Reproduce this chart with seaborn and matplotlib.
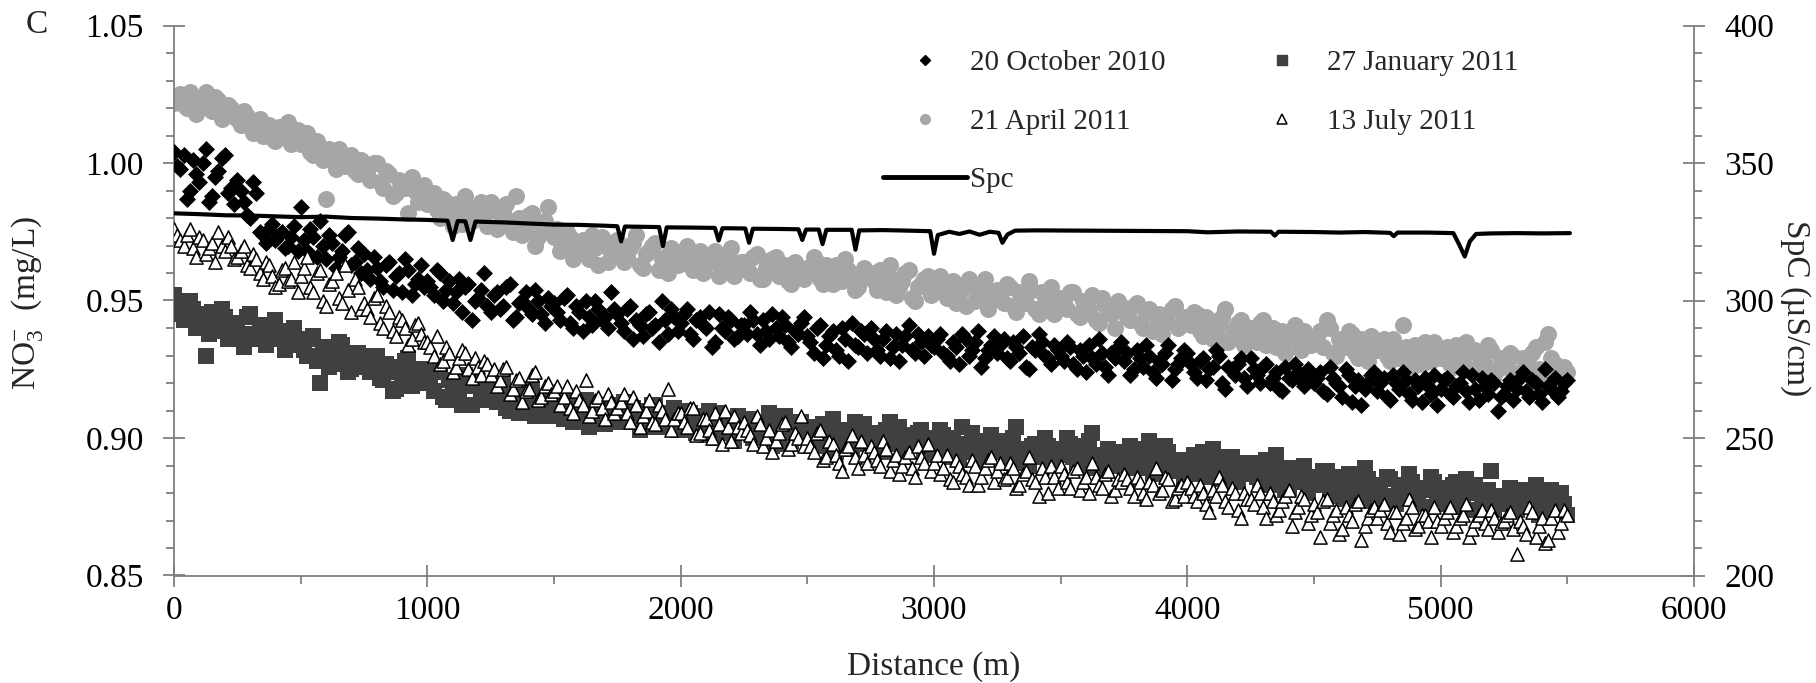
import numpy as np
import pandas as pd
import matplotlib
matplotlib.use('Agg')
import matplotlib.pyplot as plt
from matplotlib.lines import Line2D
from matplotlib.ticker import MultipleLocator, FormatStrFormatter
import seaborn as sns

# distance along the transect (m): readings every 25 m, plus the in-between ones
distance_m = list(range(0, 5501, 25))
distance_mid = [d + 12.5 for d in distance_m[:-1]]

# NO3- (mg/L) per survey
oct_2010 = [1.004, 0.998, 0.987, 1.001, 0.993, 1.005, 0.988, 0.997, 1.003, 0.991,
            0.994, 0.986, 0.980, 0.989, 0.974, 0.976, 0.972, 0.975, 0.970, 0.977,
            0.984, 0.968, 0.973, 0.979, 0.965, 0.971, 0.966, 0.974, 0.963, 0.969,
            0.967, 0.958, 0.962, 0.955, 0.964, 0.959, 0.953, 0.961, 0.956, 0.963,
            0.957, 0.952, 0.960, 0.954, 0.949, 0.958, 0.955, 0.943, 0.951, 0.960,
            0.946, 0.953, 0.948, 0.956, 0.944, 0.950, 0.947, 0.954, 0.945, 0.951,
            0.949, 0.943, 0.952, 0.940, 0.946, 0.950, 0.941, 0.947, 0.944, 0.953,
            0.945, 0.939, 0.948, 0.943, 0.937, 0.946, 0.941, 0.950, 0.938, 0.944,
            0.942, 0.947, 0.936, 0.944, 0.940, 0.933, 0.945, 0.939, 0.943, 0.937,
            0.941, 0.946, 0.938, 0.943, 0.936, 0.940, 0.944, 0.935, 0.939, 0.942,
            0.937, 0.931, 0.941, 0.934, 0.939, 0.930, 0.936, 0.942, 0.933, 0.938,
            0.940, 0.932, 0.936, 0.929, 0.938, 0.934, 0.941, 0.931, 0.935, 0.937,
            0.933, 0.938, 0.930, 0.935, 0.927, 0.936, 0.932, 0.939, 0.929, 0.934,
            0.931, 0.936, 0.928, 0.933, 0.937, 0.925, 0.932, 0.935, 0.929, 0.934,
            0.930, 0.935, 0.927, 0.932, 0.924, 0.929, 0.936, 0.926, 0.931, 0.933,
            0.928, 0.923, 0.932, 0.926, 0.930, 0.922, 0.927, 0.934, 0.925, 0.929,
            0.931, 0.924, 0.928, 0.921, 0.926, 0.930, 0.918, 0.925, 0.927, 0.922,
            0.929, 0.923, 0.926, 0.920, 0.924, 0.917, 0.922, 0.927, 0.921, 0.925,
            0.920, 0.924, 0.916, 0.922, 0.919, 0.925, 0.913, 0.921, 0.918, 0.923,
            0.917, 0.922, 0.914, 0.920, 0.924, 0.916, 0.921, 0.913, 0.919, 0.923,
            0.918, 0.922, 0.915, 0.920, 0.917, 0.923, 0.914, 0.919, 0.921, 0.910,
            0.916, 0.921, 0.918, 0.924, 0.915, 0.920, 0.913, 0.919, 0.922, 0.917,
            0.921]
oct_2010_mid = [0.999, 1.003, 0.990, 0.996, 1.000, 0.986, 0.995, 1.002, 0.989, 0.985,
                0.990, 0.981, 0.993, 0.975, 0.971, 0.978, 0.974, 0.969, 0.973, 0.968,
                0.972, 0.976, 0.966, 0.970, 0.974, 0.962, 0.968, 0.975, 0.964, 0.960,
                0.961, 0.966, 0.957, 0.963, 0.954, 0.960, 0.965, 0.952, 0.958, 0.955,
                0.955, 0.961, 0.950, 0.957, 0.953, 0.946, 0.956, 0.950, 0.954, 0.948,
                0.952, 0.947, 0.955, 0.943, 0.949, 0.953, 0.945, 0.950, 0.942, 0.948,
                0.946, 0.951, 0.942, 0.948, 0.939, 0.944, 0.950, 0.943, 0.940, 0.947,
                0.942, 0.947, 0.936, 0.941, 0.945, 0.940, 0.935, 0.943, 0.947, 0.939,
                0.945, 0.938, 0.943, 0.941, 0.946, 0.935, 0.940, 0.944, 0.936, 0.941,
                0.938, 0.943, 0.934, 0.939, 0.945, 0.937, 0.941, 0.933, 0.938, 0.944,
                0.935, 0.940, 0.929, 0.937, 0.932, 0.940, 0.928, 0.934, 0.939, 0.931,
                0.936, 0.930, 0.939, 0.933, 0.928, 0.937, 0.932, 0.938, 0.930, 0.934,
                0.936, 0.931, 0.928, 0.933, 0.938, 0.930, 0.935, 0.926, 0.932, 0.937,
                0.934, 0.929, 0.935, 0.931, 0.926, 0.933, 0.938, 0.930, 0.927, 0.932,
                0.928, 0.933, 0.925, 0.930, 0.934, 0.927, 0.931, 0.923, 0.929, 0.935,
                0.931, 0.925, 0.929, 0.934, 0.924, 0.928, 0.931, 0.921, 0.927, 0.932,
                0.927, 0.922, 0.929, 0.925, 0.932, 0.920, 0.926, 0.923, 0.929, 0.919,
                0.925, 0.920, 0.927, 0.922, 0.918, 0.926, 0.921, 0.924, 0.919, 0.923,
                0.922, 0.917, 0.926, 0.920, 0.915, 0.923, 0.919, 0.912, 0.920, 0.924,
                0.920, 0.915, 0.923, 0.918, 0.921, 0.914, 0.919, 0.922, 0.916, 0.912,
                0.921, 0.916, 0.919, 0.924, 0.913, 0.918, 0.922, 0.916, 0.920, 0.915,
                0.919, 0.914, 0.922, 0.917, 0.921, 0.916, 0.925, 0.918, 0.915, 0.920]

jan_2011 = [0.952, 0.945, 0.943, 0.947, 0.941, 0.930, 0.946, 0.939, 0.944, 0.937,
            0.942, 0.933, 0.945, 0.938, 0.941, 0.936, 0.943, 0.939, 0.935, 0.940,
            0.934, 0.930, 0.937, 0.920, 0.932, 0.927, 0.935, 0.929, 0.925, 0.931,
            0.928, 0.924, 0.930, 0.921, 0.926, 0.918, 0.923, 0.929, 0.920, 0.925,
            0.922, 0.917, 0.925, 0.914, 0.920, 0.916, 0.923, 0.912, 0.919, 0.915,
            0.918, 0.913, 0.920, 0.910, 0.916, 0.912, 0.917, 0.908, 0.914, 0.911,
            0.915, 0.909, 0.913, 0.906, 0.911, 0.914, 0.907, 0.912, 0.905, 0.910,
            0.908, 0.913, 0.906, 0.910, 0.904, 0.909, 0.912, 0.905, 0.908, 0.911,
            0.907, 0.910, 0.903, 0.908, 0.901, 0.906, 0.909, 0.902, 0.905, 0.908,
            0.903, 0.907, 0.900, 0.905, 0.909, 0.901, 0.904, 0.898, 0.903, 0.906,
            0.900, 0.904, 0.897, 0.902, 0.907, 0.899, 0.903, 0.896, 0.901, 0.905,
            0.898, 0.902, 0.895, 0.906, 0.899, 0.893, 0.901, 0.897, 0.903, 0.894,
            0.899, 0.903, 0.895, 0.900, 0.892, 0.897, 0.902, 0.894, 0.898, 0.901,
            0.895, 0.899, 0.892, 0.904, 0.896, 0.890, 0.898, 0.893, 0.897, 0.891,
            0.896, 0.900, 0.893, 0.897, 0.890, 0.902, 0.894, 0.888, 0.895, 0.891,
            0.893, 0.897, 0.889, 0.894, 0.899, 0.887, 0.892, 0.895, 0.888, 0.891,
            0.890, 0.894, 0.887, 0.892, 0.896, 0.885, 0.889, 0.893, 0.884, 0.888,
            0.891, 0.886, 0.890, 0.883, 0.894, 0.887, 0.882, 0.889, 0.885, 0.880,
            0.886, 0.883, 0.888, 0.880, 0.885, 0.878, 0.884, 0.881, 0.889, 0.877,
            0.883, 0.879, 0.885, 0.876, 0.882, 0.887, 0.878, 0.881, 0.875, 0.884,
            0.880, 0.876, 0.883, 0.878, 0.885, 0.874, 0.881, 0.877, 0.888, 0.879,
            0.876, 0.882, 0.874, 0.879, 0.877, 0.883, 0.873, 0.878, 0.875, 0.880,
            0.872]
jan_2011_mid = [0.948, 0.943, 0.950, 0.940, 0.945, 0.938, 0.942, 0.947, 0.936, 0.941,
                0.938, 0.944, 0.936, 0.940, 0.934, 0.939, 0.937, 0.932, 0.938, 0.935,
                0.932, 0.936, 0.928, 0.933, 0.926, 0.930, 0.934, 0.924, 0.929, 0.927,
                0.926, 0.930, 0.922, 0.927, 0.917, 0.924, 0.928, 0.919, 0.923, 0.921,
                0.920, 0.924, 0.915, 0.921, 0.918, 0.912, 0.919, 0.922, 0.914, 0.917,
                0.915, 0.919, 0.911, 0.916, 0.909, 0.914, 0.918, 0.910, 0.913, 0.908,
                0.912, 0.907, 0.914, 0.909, 0.913, 0.904, 0.910, 0.908, 0.912, 0.906,
                0.910, 0.906, 0.911, 0.903, 0.908, 0.912, 0.904, 0.909, 0.907, 0.903,
                0.905, 0.909, 0.902, 0.906, 0.910, 0.900, 0.904, 0.907, 0.899, 0.904,
                0.905, 0.900, 0.906, 0.902, 0.897, 0.904, 0.908, 0.899, 0.902, 0.900,
                0.902, 0.898, 0.905, 0.900, 0.895, 0.903, 0.899, 0.906, 0.898, 0.902,
                0.900, 0.896, 0.903, 0.898, 0.904, 0.896, 0.899, 0.902, 0.895, 0.900,
                0.897, 0.901, 0.893, 0.898, 0.904, 0.895, 0.899, 0.891, 0.896, 0.899,
                0.897, 0.893, 0.900, 0.895, 0.891, 0.897, 0.894, 0.900, 0.892, 0.895,
                0.894, 0.898, 0.891, 0.895, 0.899, 0.889, 0.893, 0.896, 0.890, 0.894,
                0.895, 0.890, 0.896, 0.891, 0.887, 0.893, 0.897, 0.889, 0.892, 0.886,
                0.892, 0.888, 0.895, 0.886, 0.890, 0.893, 0.884, 0.891, 0.887, 0.890,
                0.888, 0.884, 0.892, 0.886, 0.889, 0.881, 0.887, 0.884, 0.890, 0.883,
                0.884, 0.888, 0.879, 0.886, 0.882, 0.887, 0.878, 0.883, 0.885, 0.880,
                0.881, 0.886, 0.877, 0.883, 0.879, 0.884, 0.876, 0.882, 0.886, 0.878,
                0.882, 0.878, 0.884, 0.875, 0.880, 0.883, 0.877, 0.881, 0.874, 0.879,
                0.878, 0.874, 0.881, 0.876, 0.880, 0.872, 0.877, 0.881, 0.874, 0.876]

apr_2011 = [1.022, 1.025, 1.020, 1.024, 1.021, 1.026, 1.019, 1.023, 1.017, 1.020,
            1.016, 1.019, 1.013, 1.015, 1.010, 1.014, 1.008, 1.012, 1.015, 1.009,
            1.007, 1.011, 1.003, 1.006, 0.987, 1.002, 1.005, 0.999, 1.003, 0.996,
            0.998, 0.994, 1.000, 0.991, 0.996, 0.989, 0.993, 0.982, 0.990, 0.987,
            0.985, 0.989, 0.980, 0.986, 0.977, 0.983, 0.988, 0.979, 0.984, 0.981,
            0.986, 0.976, 0.983, 0.979, 0.988, 0.974, 0.981, 0.970, 0.978, 0.984,
            0.973, 0.968, 0.975, 0.965, 0.971, 0.967, 0.974, 0.963, 0.970, 0.966,
            0.972, 0.964, 0.969, 0.974, 0.962, 0.968, 0.971, 0.965, 0.960, 0.967,
            0.966, 0.970, 0.961, 0.968, 0.963, 0.967, 0.959, 0.965, 0.969, 0.962,
            0.964, 0.960, 0.967, 0.958, 0.963, 0.966, 0.961, 0.957, 0.964, 0.960,
            0.962, 0.966, 0.958, 0.963, 0.956, 0.961, 0.965, 0.959, 0.955, 0.962,
            0.960, 0.954, 0.958, 0.963, 0.952, 0.957, 0.961, 0.950, 0.956, 0.959,
            0.955, 0.959, 0.951, 0.957, 0.953, 0.948, 0.956, 0.952, 0.958, 0.950,
            0.954, 0.949, 0.955, 0.946, 0.952, 0.957, 0.947, 0.953, 0.950, 0.945,
            0.951, 0.947, 0.953, 0.944, 0.949, 0.952, 0.942, 0.948, 0.945, 0.950,
            0.946, 0.943, 0.949, 0.940, 0.947, 0.944, 0.938, 0.945, 0.948, 0.941,
            0.943, 0.946, 0.939, 0.944, 0.936, 0.941, 0.947, 0.937, 0.942, 0.934,
            0.940, 0.935, 0.943, 0.938, 0.933, 0.939, 0.936, 0.941, 0.932, 0.937,
            0.935, 0.939, 0.943, 0.931, 0.936, 0.933, 0.938, 0.929, 0.934, 0.937,
            0.932, 0.936, 0.928, 0.933, 0.941, 0.930, 0.934, 0.927, 0.932, 0.935,
            0.929, 0.933, 0.926, 0.931, 0.935, 0.924, 0.930, 0.927, 0.932, 0.925,
            0.928, 0.931, 0.923, 0.929, 0.926, 0.933, 0.922, 0.938, 0.927, 0.921,
            0.924]
apr_2011_mid = [1.024, 1.021, 1.026, 1.018, 1.023, 1.020, 1.024, 1.016, 1.021, 1.018,
                1.014, 1.017, 1.011, 1.016, 1.012, 1.009, 1.013, 1.010, 1.007, 1.012,
                1.009, 1.004, 1.008, 1.001, 1.005, 0.998, 1.003, 1.000, 0.997, 1.001,
                0.996, 1.000, 0.993, 0.997, 0.988, 0.994, 0.991, 0.995, 0.986, 0.992,
                0.988, 0.983, 0.987, 0.981, 0.985, 0.978, 0.984, 0.980, 0.986, 0.977,
                0.983, 0.978, 0.985, 0.975, 0.980, 0.977, 0.982, 0.973, 0.979, 0.976,
                0.976, 0.970, 0.973, 0.968, 0.972, 0.965, 0.969, 0.973, 0.964, 0.968,
                0.969, 0.966, 0.971, 0.963, 0.967, 0.970, 0.961, 0.966, 0.969, 0.963,
                0.968, 0.963, 0.966, 0.960, 0.965, 0.968, 0.962, 0.966, 0.959, 0.964,
                0.962, 0.966, 0.958, 0.962, 0.965, 0.959, 0.963, 0.956, 0.961, 0.958,
                0.960, 0.964, 0.956, 0.960, 0.963, 0.957, 0.961, 0.954, 0.958, 0.960,
                0.957, 0.961, 0.953, 0.958, 0.955, 0.960, 0.951, 0.955, 0.958, 0.952,
                0.957, 0.953, 0.956, 0.949, 0.954, 0.958, 0.950, 0.955, 0.947, 0.953,
                0.951, 0.956, 0.948, 0.953, 0.949, 0.954, 0.945, 0.951, 0.955, 0.948,
                0.949, 0.953, 0.945, 0.950, 0.947, 0.943, 0.951, 0.946, 0.940, 0.948,
                0.944, 0.948, 0.942, 0.946, 0.939, 0.945, 0.942, 0.947, 0.940, 0.944,
                0.941, 0.945, 0.937, 0.943, 0.939, 0.944, 0.935, 0.940, 0.943, 0.938,
                0.938, 0.942, 0.934, 0.940, 0.936, 0.931, 0.938, 0.935, 0.939, 0.934,
                0.937, 0.933, 0.940, 0.930, 0.935, 0.939, 0.931, 0.936, 0.928, 0.933,
                0.934, 0.930, 0.936, 0.929, 0.933, 0.926, 0.931, 0.935, 0.928, 0.930,
                0.931, 0.927, 0.934, 0.929, 0.925, 0.932, 0.928, 0.934, 0.923, 0.929,
                0.926, 0.930, 0.924, 0.928, 0.931, 0.925, 0.935, 0.929, 0.923, 0.926]

jul_2011 = [0.976, 0.972, 0.974, 0.969, 0.973, 0.967, 0.971, 0.975, 0.968, 0.970,
            0.966, 0.970, 0.962, 0.965, 0.958, 0.963, 0.955, 0.961, 0.957, 0.964,
            0.959, 0.966, 0.953, 0.961, 0.948, 0.957, 0.951, 0.963, 0.946, 0.955,
            0.949, 0.944, 0.952, 0.940, 0.946, 0.937, 0.943, 0.934, 0.941, 0.938,
            0.935, 0.930, 0.927, 0.933, 0.924, 0.929, 0.931, 0.922, 0.926, 0.928,
            0.923, 0.919, 0.925, 0.916, 0.921, 0.913, 0.918, 0.924, 0.915, 0.920,
            0.917, 0.912, 0.919, 0.909, 0.914, 0.921, 0.910, 0.915, 0.907, 0.913,
            0.911, 0.916, 0.906, 0.912, 0.908, 0.914, 0.905, 0.910, 0.918, 0.907,
            0.909, 0.904, 0.911, 0.902, 0.907, 0.900, 0.905, 0.910, 0.899, 0.904,
            0.906, 0.901, 0.908, 0.897, 0.903, 0.899, 0.905, 0.896, 0.902, 0.908,
            0.900, 0.895, 0.903, 0.893, 0.898, 0.891, 0.896, 0.901, 0.889, 0.894,
            0.897, 0.892, 0.899, 0.888, 0.894, 0.890, 0.895, 0.886, 0.893, 0.898,
            0.891, 0.887, 0.894, 0.884, 0.890, 0.886, 0.892, 0.883, 0.889, 0.893,
            0.888, 0.885, 0.891, 0.882, 0.887, 0.893, 0.884, 0.889, 0.880, 0.886,
            0.890, 0.884, 0.888, 0.881, 0.886, 0.891, 0.883, 0.887, 0.879, 0.885,
            0.887, 0.882, 0.886, 0.880, 0.884, 0.889, 0.881, 0.885, 0.878, 0.883,
            0.884, 0.879, 0.883, 0.876, 0.881, 0.886, 0.877, 0.882, 0.874, 0.880,
            0.878, 0.883, 0.875, 0.880, 0.872, 0.877, 0.881, 0.873, 0.879, 0.869,
            0.876, 0.864, 0.878, 0.872, 0.865, 0.875, 0.870, 0.877, 0.868, 0.874,
            0.871, 0.876, 0.866, 0.873, 0.869, 0.878, 0.867, 0.872, 0.870, 0.875,
            0.868, 0.873, 0.866, 0.871, 0.876, 0.867, 0.872, 0.869, 0.874, 0.866,
            0.870, 0.873, 0.858, 0.868, 0.875, 0.864, 0.871, 0.863, 0.874, 0.869,
            0.872]
jul_2011_mid = [0.974, 0.970, 0.976, 0.966, 0.972, 0.969, 0.964, 0.970, 0.973, 0.965,
                0.968, 0.963, 0.967, 0.960, 0.964, 0.959, 0.956, 0.962, 0.958, 0.953,
                0.962, 0.955, 0.960, 0.950, 0.956, 0.960, 0.949, 0.954, 0.958, 0.947,
                0.947, 0.951, 0.942, 0.948, 0.939, 0.944, 0.940, 0.936, 0.942, 0.935,
                0.933, 0.937, 0.928, 0.931, 0.926, 0.932, 0.925, 0.929, 0.923, 0.927,
                0.925, 0.921, 0.926, 0.918, 0.922, 0.917, 0.923, 0.914, 0.919, 0.916,
                0.919, 0.915, 0.911, 0.917, 0.912, 0.908, 0.914, 0.911, 0.916, 0.909,
                0.913, 0.909, 0.915, 0.904, 0.910, 0.906, 0.912, 0.907, 0.903, 0.909,
                0.906, 0.911, 0.901, 0.907, 0.903, 0.909, 0.898, 0.904, 0.908, 0.902,
                0.903, 0.898, 0.905, 0.900, 0.895, 0.902, 0.906, 0.898, 0.900, 0.897,
                0.897, 0.902, 0.892, 0.899, 0.894, 0.888, 0.897, 0.893, 0.899, 0.891,
                0.895, 0.890, 0.896, 0.892, 0.887, 0.893, 0.889, 0.897, 0.891, 0.888,
                0.894, 0.889, 0.885, 0.892, 0.887, 0.883, 0.890, 0.886, 0.892, 0.884,
                0.891, 0.886, 0.889, 0.883, 0.888, 0.885, 0.879, 0.886, 0.890, 0.882,
                0.887, 0.882, 0.889, 0.884, 0.880, 0.886, 0.882, 0.888, 0.881, 0.884,
                0.885, 0.879, 0.884, 0.878, 0.883, 0.880, 0.886, 0.877, 0.882, 0.879,
                0.882, 0.877, 0.880, 0.873, 0.879, 0.883, 0.875, 0.880, 0.871, 0.878,
                0.876, 0.880, 0.871, 0.877, 0.874, 0.879, 0.868, 0.875, 0.878, 0.872,
                0.873, 0.877, 0.869, 0.874, 0.867, 0.872, 0.876, 0.863, 0.871, 0.875,
                0.874, 0.869, 0.873, 0.865, 0.871, 0.875, 0.868, 0.872, 0.864, 0.870,
                0.871, 0.875, 0.868, 0.872, 0.864, 0.870, 0.874, 0.867, 0.871, 0.869,
                0.872, 0.867, 0.870, 0.865, 0.873, 0.868, 0.862, 0.871, 0.866, 0.874]

# specific conductance (uS/cm), right axis
spc_dist = [0, 100, 200, 300, 400, 500, 600, 700, 800, 900,
            1000, 1080, 1100, 1120, 1150, 1170, 1190, 1300, 1400, 1500,
            1600, 1700, 1750, 1765, 1780, 1850, 1915, 1930, 1945, 2050,
            2135, 2150, 2165, 2255, 2270, 2285, 2400, 2465, 2480, 2495,
            2545, 2560, 2575, 2675, 2690, 2705, 2800, 2900, 2985, 3000,
            3015, 3060, 3100, 3140, 3180, 3220, 3255, 3270, 3290, 3320,
            3400, 3600, 3800, 4000, 4080, 4200, 4330, 4345, 4360, 4500,
            4600, 4700, 4800, 4815, 4830, 4950, 5050, 5075, 5095, 5115,
            5140, 5200, 5300, 5400, 5510]
spc_val = [331.7, 331.4, 331.0, 330.9, 330.6, 330.3, 330.5, 330.0, 329.8, 329.5,
           329.3, 329.0, 322.0, 328.9, 328.8, 322.0, 328.7, 328.4, 328.0, 327.6,
           327.5, 327.2, 327.0, 321.5, 326.9, 326.8, 326.7, 319.8, 326.6, 326.5,
           326.4, 321.8, 326.3, 326.2, 321.0, 326.1, 326.0, 325.9, 322.0, 325.8,
           325.8, 320.5, 325.7, 325.7, 318.5, 325.5, 325.6, 325.4, 325.2, 317.0,
           323.8, 325.0, 324.2, 325.1, 323.9, 325.0, 324.6, 321.0, 324.0, 325.4,
           325.5, 325.4, 325.3, 325.2, 324.8, 325.1, 325.0, 323.6, 325.0, 324.9,
           324.7, 324.9, 324.6, 323.4, 324.7, 324.7, 324.5, 320.0, 316.0, 321.5,
           324.2, 324.4, 324.5, 324.4, 324.5]

labels = ['20 October 2010', '21 April 2011', 'Spc', '27 January 2011', '13 July 2011']

sns.set_style('ticks')
plt.rcParams['font.family'] = ['Liberation Serif', 'DejaVu Serif']
plt.rcParams['mathtext.fontset'] = 'custom'
plt.rcParams['mathtext.rm'] = 'Liberation Serif'
plt.rcParams['mathtext.it'] = 'Liberation Serif:italic'

grey = '#7f7f7f'
fs = 24

fig = plt.figure(figsize=(18.16, 6.83), dpi=100)
ax = fig.add_axes([174 / 1816, 1 - 575.5 / 683, 1520 / 1816, 550 / 683])

df = pd.concat([
    pd.DataFrame({'dist': distance_m, 'oct': oct_2010, 'jan': jan_2011,
                  'apr': apr_2011, 'jul': jul_2011}),
    pd.DataFrame({'dist': distance_mid, 'oct': oct_2010_mid, 'jan': jan_2011_mid,
                  'apr': apr_2011_mid, 'jul': jul_2011_mid}),
]).sort_values('dist')

sns.scatterplot(data=df, x='dist', y='apr', ax=ax, marker='o', color='#a6a6a6',
                s=150, linewidth=0, legend=False, zorder=2)
sns.scatterplot(data=df, x='dist', y='oct', ax=ax, marker='D', color='black',
                s=75, linewidth=0, legend=False, zorder=3)
sns.scatterplot(data=df, x='dist', y='jan', ax=ax, marker='s', color='#404040',
                s=130, linewidth=0, legend=False, zorder=4)
sns.scatterplot(data=df, x='dist', y='jul', ax=ax, marker='^', color='white',
                edgecolor='black', s=90, linewidth=1.1, legend=False, zorder=5)

ax.set_xlim(0, 6000)
ax.set_ylim(0.85, 1.05)
ax.xaxis.set_major_locator(MultipleLocator(1000))
ax.xaxis.set_minor_locator(MultipleLocator(500))
ax.yaxis.set_major_locator(MultipleLocator(0.05))
ax.yaxis.set_minor_locator(MultipleLocator(0.01))
ax.yaxis.set_major_formatter(FormatStrFormatter('%.2f'))
ax.set_xlabel('')
ax.set_ylabel('')

ax2 = ax.twinx()
sns.lineplot(x=spc_dist, y=spc_val, ax=ax2, color='black', linewidth=3,
             estimator=None, sort=False, legend=False)
ax2.set_ylim(200, 400)
ax2.yaxis.set_major_locator(MultipleLocator(50))
ax2.yaxis.set_minor_locator(MultipleLocator(10))
ax2.set_ylabel('')

for a in (ax, ax2):
    for side in a.spines:
        a.spines[side].set_color(grey)
        a.spines[side].set_linewidth(1.3)
    a.spines['top'].set_visible(False)
ax.spines['right'].set_visible(False)
ax2.spines['left'].set_visible(False)
ax2.spines['bottom'].set_visible(False)

ax.tick_params(axis='both', which='major', direction='inout', length=15.5, width=1.3,
               color=grey, labelsize=fs, labelcolor='black')
ax.tick_params(axis='both', which='minor', direction='out', length=6, width=1.3, color=grey)
ax.tick_params(axis='x', which='major', pad=7)
ax.tick_params(axis='y', which='major', pad=14)
ax2.tick_params(axis='y', which='major', direction='inout', length=15.5, width=1.3,
                color=grey, labelsize=fs, labelcolor='black', pad=14)
ax2.tick_params(axis='y', which='minor', direction='out', length=6, width=1.3, color=grey)

ax.set_xlabel('Distance (m)', fontsize=fs)
ax.xaxis.set_label_coords(0.5, -0.138)
fig.text(27 / 1816, 1 - 303 / 683, r'NO$_3^{-}$  (mg/L)', rotation=90,
         ha='center', va='center', fontsize=fs)
fig.text(1795 / 1816, 1 - 308 / 683, 'SpC (µS/cm)', rotation=270,
         ha='center', va='center', fontsize=fs)
fig.text(37 / 1816, 1 - 25 / 683, 'C', ha='center', va='center', fontsize=fs)

handles = [
    Line2D([], [], linestyle='none', marker='D', markersize=5, color='black'),
    Line2D([], [], linestyle='none', marker='o', markersize=7, color='#a6a6a6'),
    Line2D([], [], color='black', linewidth=3.5),
    Line2D([], [], linestyle='none', marker='s', markersize=7, color='#404040'),
    Line2D([], [], linestyle='none', marker='^', markersize=6.5,
           markerfacecolor='white', markeredgecolor='black', markeredgewidth=1.1),
]
fig.legend(handles, labels, ncol=2, loc='upper left',
           bbox_to_anchor=(883 / 1816, 1 - 50 / 683), frameon=False,
           fontsize=21, handlelength=2.88, handletextpad=0.1,
           columnspacing=2.57, labelspacing=1.1, borderpad=0, borderaxespad=0)

fig.savefig('out.png', dpi=100)
